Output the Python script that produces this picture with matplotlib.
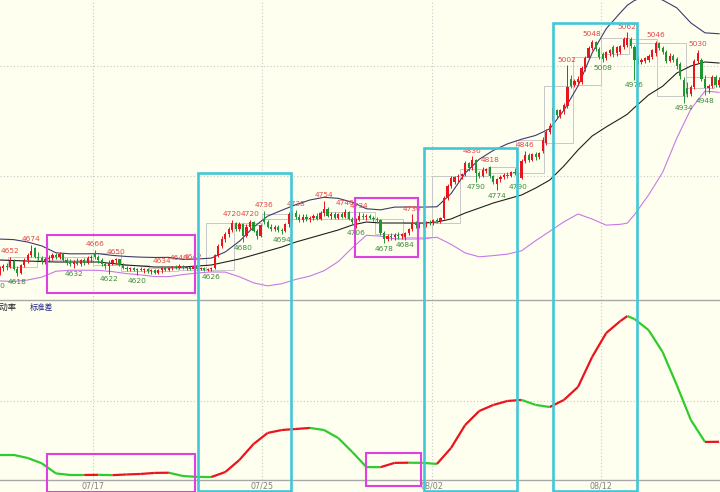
import numpy as np
import matplotlib
matplotlib.use("Agg")
import matplotlib.pyplot as plt
from matplotlib.collections import LineCollection
from matplotlib.patches import Rectangle

# candles, the first one sits at k=-2 (just off the left edge)
opens = [4628, 4624, 4632, 4636, 4634, 4645, 4630, 4624, 4638, 4646,
         4656, 4668, 4652, 4650, 4644, 4648, 4650, 4656, 4652, 4658,
         4646, 4642, 4640, 4644, 4640, 4646, 4642, 4650, 4660, 4652,
         4646, 4640, 4636, 4642, 4646, 4648, 4638, 4632, 4630, 4632,
         4628, 4630, 4628, 4630, 4626, 4628, 4624, 4628, 4632, 4628,
         4632, 4634, 4632, 4636, 4632, 4634, 4630, 4636, 4630, 4632,
         4628, 4630, 4632, 4656, 4672, 4686, 4694, 4702, 4714, 4704,
         4712, 4690, 4708, 4716, 4700, 4690, 4722, 4716, 4708, 4704,
         4708, 4702, 4700, 4712, 4722, 4732, 4726, 4720, 4726, 4722,
         4724, 4728, 4722, 4732, 4740, 4728, 4730, 4724, 4730, 4726,
         4734, 4722, 4716, 4720, 4728, 4726, 4728, 4724, 4722, 4720,
         4696, 4686, 4690, 4688, 4692, 4690, 4688, 4696, 4704, 4714,
         4710, 4714, 4712, 4716, 4714, 4720, 4718, 4724, 4760, 4782,
         4790, 4798, 4800, 4804, 4824, 4814, 4830, 4806, 4800, 4810,
         4816, 4800, 4786, 4794, 4798, 4802, 4800, 4808, 4806, 4796,
         4828, 4838, 4830, 4840, 4834, 4846, 4860, 4880, 4900, 4920,
         4910, 4918, 4928, 4978, 4966, 4972, 4972, 4996, 5016, 5034,
         5044, 5032, 5022, 5016, 5024, 5036, 5024, 5026, 5036, 5040,
         5050, 5036, 5014, 5008, 5010, 5012, 5018, 5024, 5042, 5034,
         5026, 5010, 5020, 5014, 5004, 4976, 4960, 4950, 4962, 5010,
         5012, 4978, 4960, 4964, 4980, 4966]
highs = [4632, 4636, 4640, 4642, 4652, 4648, 4636, 4640, 4650, 4660,
         4674, 4670, 4662, 4654, 4652, 4656, 4660, 4660, 4662, 4660,
         4650, 4648, 4646, 4650, 4648, 4650, 4654, 4656, 4666, 4656,
         4650, 4644, 4646, 4648, 4650, 4649, 4642, 4636, 4634, 4634,
         4632, 4634, 4632, 4632, 4630, 4630, 4630, 4634, 4634, 4634,
         4636, 4638, 4640, 4638, 4636, 4636, 4642, 4638, 4634, 4634,
         4632, 4634, 4658, 4676, 4690, 4698, 4708, 4720, 4716, 4716,
         4714, 4712, 4720, 4718, 4704, 4712, 4736, 4720, 4712, 4710,
         4710, 4706, 4714, 4734, 4736, 4738, 4730, 4730, 4730, 4728,
         4730, 4732, 4736, 4754, 4744, 4734, 4734, 4732, 4734, 4740,
         4736, 4726, 4724, 4734, 4732, 4730, 4730, 4728, 4726, 4722,
         4700, 4694, 4696, 4696, 4698, 4696, 4698, 4706, 4730, 4718,
         4716, 4718, 4718, 4720, 4722, 4724, 4726, 4764, 4786, 4800,
         4800, 4804, 4806, 4828, 4826, 4836, 4832, 4810, 4816, 4814,
         4818, 4802, 4796, 4802, 4806, 4808, 4810, 4814, 4808, 4832,
         4846, 4842, 4842, 4844, 4844, 4872, 4886, 4896, 4930, 4922,
         4922, 4934, 5002, 4984, 4978, 4982, 5000, 5020, 5038, 5048,
         5046, 5036, 5026, 5028, 5032, 5040, 5038, 5040, 5054, 5062,
         5054, 5040, 5018, 5016, 5018, 5022, 5032, 5046, 5044, 5038,
         5030, 5024, 5022, 5018, 5008, 4980, 4972, 4966, 5014, 5030,
         5016, 4984, 4968, 4984, 4984, 4980]
lows = [4610, 4620, 4626, 4628, 4632, 4628, 4618, 4622, 4635, 4642,
        4652, 4650, 4646, 4640, 4640, 4644, 4646, 4648, 4648, 4644,
        4638, 4636, 4632, 4638, 4636, 4638, 4640, 4644, 4648, 4642,
        4636, 4630, 4622, 4638, 4640, 4636, 4630, 4626, 4626, 4626,
        4620, 4626, 4624, 4624, 4622, 4622, 4622, 4624, 4626, 4626,
        4628, 4630, 4630, 4630, 4628, 4628, 4628, 4628, 4628, 4627,
        4627, 4626, 4630, 4652, 4668, 4680, 4688, 4698, 4700, 4700,
        4680, 4688, 4704, 4698, 4686, 4688, 4712, 4706, 4700, 4700,
        4698, 4694, 4698, 4708, 4718, 4722, 4716, 4716, 4718, 4716,
        4720, 4720, 4720, 4728, 4726, 4722, 4722, 4722, 4724, 4724,
        4720, 4712, 4706, 4718, 4722, 4720, 4722, 4718, 4716, 4692,
        4678, 4682, 4684, 4684, 4686, 4686, 4684, 4692, 4700, 4706,
        4706, 4708, 4708, 4710, 4710, 4714, 4714, 4722, 4756, 4778,
        4786, 4790, 4794, 4800, 4810, 4812, 4790, 4796, 4798, 4806,
        4796, 4786, 4774, 4790, 4794, 4796, 4798, 4802, 4790, 4794,
        4824, 4826, 4828, 4830, 4832, 4842, 4856, 4876, 4896, 4906,
        4906, 4914, 4924, 4960, 4962, 4966, 4968, 4992, 5014, 5030,
        5028, 5014, 5008, 5012, 5020, 5018, 5020, 5022, 5032, 5036,
        5034, 4976, 5004, 5004, 5006, 5008, 5014, 5020, 5030, 5022,
        5006, 5008, 5008, 4996, 4978, 4934, 4944, 4946, 4958, 5006,
        4974, 4948, 4952, 4960, 4962, 4962]
closes = [4624, 4632, 4636, 4634, 4645, 4630, 4624, 4638, 4646, 4656,
          4664, 4652, 4650, 4644, 4648, 4650, 4656, 4652, 4658, 4646,
          4642, 4640, 4644, 4640, 4646, 4642, 4650, 4652, 4652, 4646,
          4640, 4636, 4642, 4646, 4648, 4638, 4632, 4630, 4632, 4628,
          4630, 4628, 4630, 4626, 4628, 4624, 4628, 4632, 4628, 4632,
          4634, 4632, 4636, 4632, 4634, 4630, 4636, 4630, 4632, 4628,
          4630, 4632, 4656, 4672, 4686, 4694, 4704, 4714, 4704, 4712,
          4690, 4708, 4716, 4700, 4690, 4710, 4716, 4708, 4704, 4708,
          4702, 4700, 4712, 4730, 4732, 4726, 4720, 4726, 4722, 4724,
          4728, 4722, 4732, 4740, 4728, 4730, 4724, 4730, 4726, 4734,
          4722, 4716, 4720, 4728, 4726, 4728, 4724, 4722, 4720, 4696,
          4686, 4690, 4688, 4692, 4690, 4694, 4696, 4704, 4714, 4710,
          4714, 4712, 4716, 4714, 4720, 4718, 4724, 4760, 4782, 4796,
          4798, 4800, 4804, 4824, 4814, 4830, 4806, 4800, 4812, 4813,
          4800, 4790, 4794, 4798, 4802, 4800, 4808, 4806, 4796, 4828,
          4838, 4830, 4840, 4834, 4842, 4866, 4880, 4892, 4924, 4912,
          4920, 4930, 4962, 4964, 4974, 4978, 4998, 5016, 5034, 5044,
          5032, 5018, 5014, 5026, 5030, 5022, 5036, 5038, 5050, 5052,
          5038, 5012, 5008, 5012, 5016, 5020, 5030, 5042, 5034, 5026,
          5010, 5020, 5012, 5000, 4982, 4946, 4950, 4962, 5010, 5024,
          4978, 4960, 4964, 4980, 4966, 4976]

# bollinger middle line and standard deviation, read at these candle positions
band_k = [-1, 3, 7, 11, 15, 19, 23, 27, 31, 35, 39, 43, 47, 51, 55, 59, 63, 67,
          71, 75, 79, 83, 87, 91, 95, 99, 103, 107, 111, 115, 119, 123, 127, 131,
          135, 139, 143, 147, 151, 155, 159, 163, 167, 171, 175, 177, 179, 183,
          187, 191, 195, 199, 203]
mid_vals = [4646.9, 4645.9, 4645.0, 4644.1, 4643.2, 4643.2, 4643.2, 4643.2, 4640.5,
            4637.7, 4635.9, 4634.1, 4634.1, 4634.1, 4635.9, 4637.7, 4643.2, 4648.7,
            4656.0, 4663.3, 4670.6, 4679.7, 4687.0, 4694.3, 4701.6, 4710.7, 4716.2,
            4714.4, 4714.4, 4714.4, 4714.4, 4716.2, 4721.7, 4732.6, 4741.7, 4750.9,
            4758.2, 4765.5, 4778.2, 4792.8, 4818.4, 4847.6, 4873.1, 4889.7, 4905.0,
            4913.0, 4925.0, 4948.0, 4964.0, 4988.0, 5000.9, 5008.2, 5006.3]
std_vals = [19.1, 19.1, 17.3, 14.2, 8.4, 7.5, 7.5, 7.6, 7.4, 7.8, 8.1, 8.7, 8.8,
            6.9, 6.4, 6.3, 9.2, 16.2, 25.4, 31.8, 33.5, 34.1, 34.7, 33.5, 28.9,
            20.8, 12.1, 12.0, 14.5, 14.6, 14.5, 13.9, 23.1, 36.4, 44.5, 48.0, 50.3,
            50.9, 48.0, 46.8, 50.9, 58.4, 75.7, 89.6, 96.5, 99.4, 97.7, 91.3, 78.6,
            59.5, 39.3, 26.6, 26.7]

date_k = [25.5, 73.5, 121.5, 169.5]
date_labels = ['07/17', '07/25', '08/02', '08/12']

hi_marks = [2, 8, 26, 32, 45, 50, 54, 65, 70, 74, 83, 91, 97, 101, 116, 133,
            138, 148, 160, 167, 177, 185, 197]
lo_marks = [-2, 4, 20, 30, 38, 59, 68, 79, 100, 108, 114, 134, 140, 146, 170,
            179, 193, 199]

# highlight boxes: (k start, k end, bottom, top)
magenta_top = [(12.45, 54.4, 4586.6, 4692.5), (99.8, 117.6, 4652.3, 4760.0)]
magenta_low = [(12.45, 54.4, -2.3, 19.7), (102.9, 118.5, 1.2, 20.2)]
cyan_boxes = [(55.3, 81.6, 4805.6), (119.3, 145.7, 4851.2), (155.9, 179.7, 5079.3)]
cyan_bottom = -1.7

bg = '#FFFFF0'
red = '#E8141E'
green = '#1E9632'

o = np.array(opens, float)
h = np.array(highs, float)
l = np.array(lows, float)
c = np.array(closes, float)
k = np.arange(len(o)) - 2

fig = plt.figure(figsize=(7.2, 4.92), dpi=100)
fig.patch.set_facecolor(bg)
ax = fig.add_axes([0, 192 / 492, 1, 300 / 492])
ax2 = fig.add_axes([0, 12 / 492, 1, 179 / 492])
for a in (ax, ax2):
    a.set_facecolor('none')
    a.set_xlim(-0.879, 203.26)
    a.set_xticks([])
    a.set_yticks([])
    for s in ('top', 'left', 'right'):
        a.spines[s].set_visible(False)
    a.spines['bottom'].set_color('#A8A8A8')
    a.spines['bottom'].set_linewidth(1.0)
    for dk in date_k:
        a.axvline(dk, color='#C8C8C8', lw=0.8, ls=(0, (1, 2)), zorder=0)
ax.set_ylim(4573.9, 5121.3)
ax2.set_ylim(4.6, 108.1)
for g in (4800, 5000):
    ax.axhline(g, color='#C8C8C8', lw=0.8, ls=(0, (1, 2)), zorder=0)
ax2.axhline(50, color='#C8C8C8', lw=0.8, ls=(0, (1, 2)), zorder=0)

# daily open/close boxes
for start in range(2, len(k) - 2 - 7, 8):
    i0 = start + 2
    i1 = i0 + 7
    lo_b = min(o[i0], c[i1])
    hi_b = max(o[i0], c[i1])
    ax.add_patch(Rectangle((start - 0.5, lo_b), 8, max(hi_b - lo_b, 0.5),
                           fill=False, ec='#C8C8C8', lw=0.7, zorder=1))

# bollinger bands
mid = np.array(mid_vals)
sd = np.array(std_vals)
ax.plot(band_k, mid, color='#202020', lw=0.8, zorder=2)
ax.plot(band_k, mid + 2 * sd, color='#3C3C6E', lw=0.8, zorder=2)
ax.plot(band_k, mid - 2 * sd, color='#C878E6', lw=0.8, zorder=2)

# candles
up = c >= o
cols = np.where(up, red, green)
ax.vlines(k, l, h, colors=cols, lw=0.7, zorder=3)
ax.bar(k, np.maximum(np.abs(c - o), 1.0), width=0.62, bottom=np.minimum(o, c),
       color=cols, linewidth=0, zorder=4)

for i in hi_marks:
    ax.annotate('%d' % h[i + 2], (i, h[i + 2]), xytext=(0, 4.2), textcoords='offset points',
                ha='center', va='center', fontsize=5.4, color='#E04848',
                family='DejaVu Sans', zorder=6, annotation_clip=False)
for i in lo_marks:
    ax.annotate('%d' % l[i + 2], (i, l[i + 2]), xytext=(0, -4.2), textcoords='offset points',
                ha='center', va='center', fontsize=5.4, color='#3C8C3C',
                family='DejaVu Sans', zorder=6, annotation_clip=False)

# standard deviation line, red while rising, green while falling
pts = np.column_stack([band_k, std_vals])
segs = np.stack([pts[:-1], pts[1:]], axis=1)
seg_cols = [red if b > a else '#2ECC2E' for a, b in zip(std_vals[:-1], std_vals[1:])]
ax2.add_collection(LineCollection(segs, colors=seg_cols, lw=1.6, zorder=3))

ax2.text(0.024, 0.962, '波动率', transform=ax2.transAxes, ha='right', va='center',
         fontsize=6, color='#202020', family=['Noto Sans CJK SC', 'DejaVu Sans'])
ax2.text(0.042, 0.962, '标准差', transform=ax2.transAxes, ha='left', va='center',
         fontsize=5.6, color='#202080', family=['Noto Sans CJK SC', 'DejaVu Sans'])

for dk, lab in zip(date_k, date_labels):
    ax2.text(dk, -0.035, lab, transform=ax2.get_xaxis_transform(), ha='center', va='center',
             fontsize=5.8, color='#808080', clip_on=False)

# highlight boxes
for k0, k1, b0, b1 in magenta_top:
    ax.add_patch(Rectangle((k0, b0), k1 - k0, b1 - b0, fill=False, ec='#E040E0',
                           lw=1.5, zorder=7, clip_on=False))
for k0, k1, b0, b1 in magenta_low:
    ax2.add_patch(Rectangle((k0, b0), k1 - k0, b1 - b0, fill=False, ec='#E040E0',
                            lw=1.5, zorder=7, clip_on=False))

inv = fig.transFigure.inverted()
for k0, k1, ptop in cyan_boxes:
    x0, y1 = inv.transform(ax.transData.transform((k0, ptop)))
    x1, y0 = inv.transform(ax2.transData.transform((k1, cyan_bottom)))
    fig.add_artist(Rectangle((x0, y0), x1 - x0, y1 - y0, transform=fig.transFigure,
                             fill=False, ec='#40C8D8', lw=1.9, zorder=8))

fig.savefig('out.png', dpi=100, facecolor=bg)
